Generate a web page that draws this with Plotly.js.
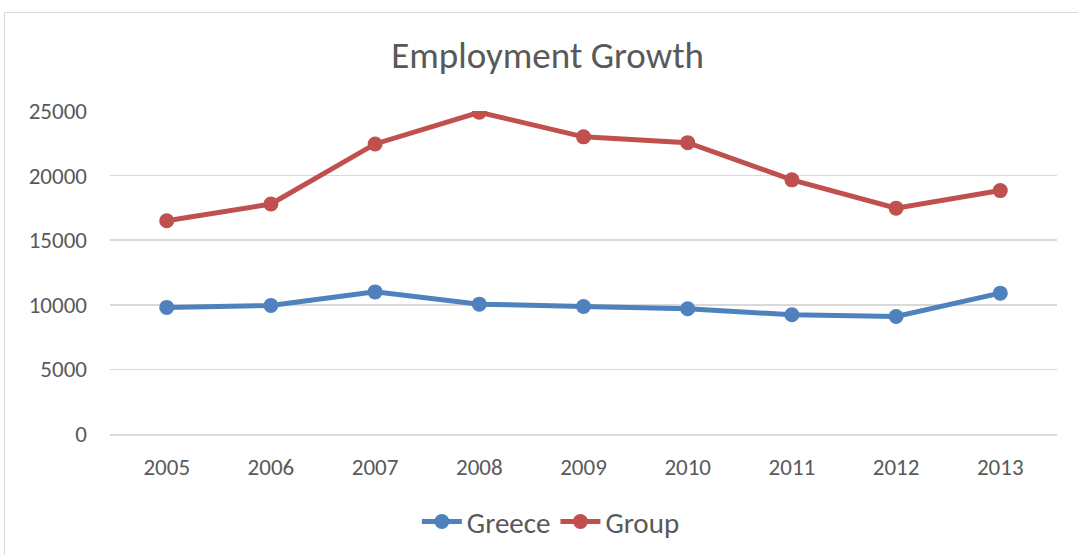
<!DOCTYPE html>
<html>
<head>
<meta charset="utf-8">
<script src="https://cdn.plot.ly/plotly-3.0.1.min.js"></script>
<style>
  html, body { margin: 0; padding: 0; background: #fff; }
  #wrap { position: relative; width: 1078px; height: 555px; overflow: hidden; }
  #frame { position: absolute; left: 4px; top: 12px; width: 1090px; height: 560px; border: 1px solid #d9d9d9; box-sizing: border-box; pointer-events: none; }
  #chart { position: absolute; left: 0; top: 0; width: 1078px; height: 555px; }
</style>
</head>
<body>
<div id="wrap">
  <div id="chart"></div>
  <div id="frame"></div>
</div>
<script>
const years = ['2005', '2006', '2007', '2008', '2009', '2010', '2011', '2012', '2013'];
const greece = [9800, 9950, 11000, 10050, 9870, 9690, 9230, 9100, 10900];
const group = [16500, 17800, 22450, 24900, 23000, 22550, 19670, 17480, 18840];
const yTicks = [0, 5000, 10000, 15000, 20000, 25000];

const font = "Calibri, Carlito, 'Open Sans', 'Liberation Sans', sans-serif";
const txt = '#595959';

const traces = [
  { x: years, y: greece, name: 'Greece', type: 'scatter', mode: 'lines+markers',
    line: { color: '#4F81BD', width: 5 }, marker: { color: '#4F81BD', size: 15 } },
  { x: years, y: group, name: 'Group', type: 'scatter', mode: 'lines+markers',
    line: { color: '#C0504D', width: 5 }, marker: { color: '#C0504D', size: 15 } }
];

const layout = {
  width: 1078, height: 555,
  margin: { l: 110, r: 21, t: 111, b: 121, autoexpand: false },
  paper_bgcolor: '#ffffff', plot_bgcolor: '#ffffff',
  font: { family: font, color: txt, size: 22 },
  title: { text: 'Employment Growth', x: 0.508, xanchor: 'center', y: 0.9, yanchor: 'middle', yref: 'container',
           font: { family: font, size: 37, color: txt } },
  xaxis: { type: 'category', tickvals: years, ticktext: years, showgrid: false, zeroline: false,
           showline: true, linecolor: '#d9d9d9', linewidth: 1.5, ticks: '', ticklabelstandoff: 12,
           tickfont: { family: font, size: 23, color: txt }, fixedrange: true, automargin: false },
  yaxis: { range: [0, 25000], tickvals: yTicks, ticktext: yTicks.map(String), showgrid: true, gridcolor: '#d9d9d9', gridwidth: 1.5,
           zeroline: false, showline: false, ticks: '', ticklabelstandoff: 22,
           tickfont: { family: font, size: 23, color: txt }, fixedrange: true, automargin: false },
  showlegend: true,
  legend: { orientation: 'h', xref: 'container', x: 0.511, xanchor: 'center', yref: 'container', y: 0.06, yanchor: 'middle',
            font: { family: font, size: 29, color: txt }, itemwidth: 40, tracegroupgap: 0 }
};

Plotly.newPlot('chart', traces, layout, { displayModeBar: false, staticPlot: true });
</script>
</body>
</html>
